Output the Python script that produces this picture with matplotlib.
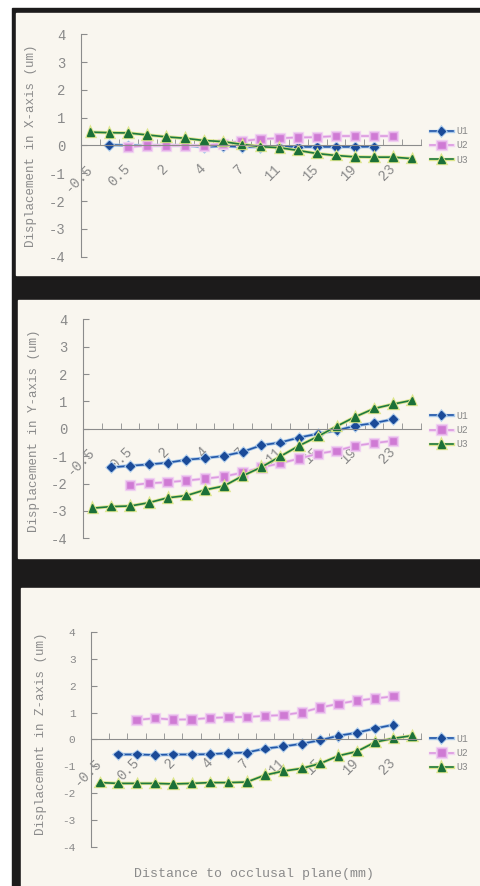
# displacement curves along three axes, Excel-style panels
import numpy as np
import matplotlib.pyplot as plt
import matplotlib.patheffects as pe
from matplotlib.patches import Rectangle

plt.rcParams['axes.unicode_minus'] = False
plt.rcParams['font.family'] = ['Liberation Mono', 'DejaVu Sans Mono']

# categories on the x axis (only every other one is labelled in the chart)
distance = ['-0.5', '0', '0.5', '1', '2', '3', '4', '5.5', '7', '9',
            '11', '13', '15', '17', '19', '21', '23', '25']
shown = ['-0.5', '0.5', '2', '4', '7', '11', '15', '19', '23']

# X-axis displacement (um)
x_u1 = [0.02, 0.0, 0.0, 0.0, 0.0, -0.05, -0.02, -0.05, -0.05, -0.05,
        -0.05, -0.05, -0.05, -0.05, -0.04]
x_u2 = [-0.06, 0.0, 0.0, 0.0, 0.0, 0.06, 0.16, 0.23, 0.26, 0.29,
        0.30, 0.34, 0.34, 0.34, 0.34]
x_u3 = [0.48, 0.46, 0.45, 0.38, 0.31, 0.26, 0.18, 0.14, 0.04, -0.04,
        -0.08, -0.18, -0.29, -0.36, -0.41, -0.42, -0.42, -0.47]

# Y-axis displacement (um)
y_u1 = [-1.41, -1.35, -1.30, -1.24, -1.13, -1.07, -0.99, -0.84, -0.60, -0.50,
        -0.32, -0.18, -0.06, 0.11, 0.21, 0.35]
y_u2 = [-2.06, -1.99, -1.95, -1.89, -1.82, -1.74, -1.60, -1.41, -1.26, -1.09,
        -0.91, -0.80, -0.62, -0.52, -0.44]
y_u3 = [-2.90, -2.84, -2.82, -2.70, -2.52, -2.44, -2.23, -2.09, -1.72, -1.40,
        -1.01, -0.62, -0.28, 0.09, 0.44, 0.74, 0.90, 1.04]

# Z-axis displacement (um)
z_u1 = [-0.56, -0.56, -0.58, -0.56, -0.56, -0.55, -0.51, -0.49, -0.34, -0.26,
        -0.16, -0.03, 0.14, 0.25, 0.41, 0.55]
z_u2 = [0.73, 0.79, 0.74, 0.75, 0.80, 0.83, 0.84, 0.88, 0.91, 1.01,
        1.19, 1.33, 1.45, 1.53, 1.61]
z_u3 = [-1.61, -1.64, -1.64, -1.64, -1.66, -1.64, -1.61, -1.61, -1.59, -1.33,
        -1.18, -1.08, -0.90, -0.61, -0.45, -0.10, 0.04, 0.14]

# first category index of each series
start_u1, start_u2, start_u3 = 1, 2, 0

W, H = 481, 886
fig = plt.figure(figsize=(W / 100, H / 100), dpi=100)
fig.patch.set_facecolor('white')

def box(x0, y0, x1, y1, color):
    fig.patches.append(Rectangle((x0 / W, 1 - y1 / H), (x1 - x0) / W, (y1 - y0) / H,
                                 transform=fig.transFigure, color=color, zorder=-10))

box(12, 8, W, H, '#1c1b1b')
box(16, 13, W, 275, '#f9f6ef')
box(18, 300, W, 558, '#f9f6ef')
box(21, 588, W, H, '#f9f6ef')

styles = [
    dict(label='U1', color='#2458a8', marker='D', ms=4, mfc='#1a4a98', mec='#1a4a98', halo='#a8c8ea'),
    dict(label='U2', color='#dd9be0', marker='s', ms=6, mfc='#cf7ad4', mec='#e4b0e8', halo='#f2d6f2'),
    dict(label='U3', color='#1f7a40', marker='^', ms=5.5, mfc='#1b7038', mec='#1b7038', halo='#dce58c'),
]

def panel(rect, series, ylabel, label_x, label_y, leg_y, ytick_size):
    ax = fig.add_axes(rect)
    ax.set_facecolor('none')
    for (vals, start), st in zip(series, styles):
        pos = np.arange(start, start + len(vals)) + 0.5
        ax.plot(pos, vals, color=st['color'], lw=1.2, marker=st['marker'], ms=st['ms'],
                mfc=st['mfc'], mec=st['mec'], label=st['label'],
                path_effects=[pe.Stroke(linewidth=2.4, foreground=st['halo']), pe.Normal()])
    ax.set_xlim(0, len(distance))
    ax.set_ylim(-4, 4)
    for s in ['top', 'right']:
        ax.spines[s].set_visible(False)
    ax.spines['left'].set_color('#8c8c8c')
    ax.spines['bottom'].set_color('#8c8c8c')
    ax.spines['bottom'].set_position(('data', 0))
    ax.set_yticks(range(-4, 5))
    ax.tick_params(axis='y', direction='in', length=4, color='#8c8c8c',
                   labelcolor='#8a8a8a', labelsize=ytick_size, pad=11)
    idx = [distance.index(v) for v in shown]
    ax.set_xticks(np.array(idx) + 0.5)
    ax.set_xticklabels(shown, rotation=45, ha='right', va='center', rotation_mode='anchor')
    ax.set_xticks(np.arange(0, len(distance) + 1), minor=True)
    ax.tick_params(axis='x', which='major', length=0, labelcolor='#8a8a8a',
                   labelsize=10, pad=15)
    ax.tick_params(axis='x', which='minor', direction='in', length=4, color='#8c8c8c')
    ax.set_ylabel(ylabel, color='#8a8a8a', fontsize=9)
    ax.yaxis.set_label_coords(label_x, label_y)
    ax.legend(loc='center left', bbox_to_anchor=(1.0, leg_y), frameon=False,
              fontsize=7, labelcolor='#8a8a8a', handlelength=2.4,
              handletextpad=0.3, labelspacing=0.45)
    return ax

panel([0.1684, 0.7103, 0.707, 0.251],
      [(x_u1, start_u1), (x_u2, start_u2), (x_u3, start_u3)],
      'Displacement in X-axis (um)', -0.129, 0.5, 0.5, 10)
panel([0.1726, 0.3924, 0.7027, 0.2472],
      [(y_u1, start_u1), (y_u2, start_u2), (y_u3, start_u3)],
      'Displacement in Y-axis (um)', -0.127, 0.49, 0.495, 10)
ax3 = panel([0.1886, 0.0444, 0.6867, 0.242],
            [(z_u1, start_u1), (z_u2, start_u2), (z_u3, start_u3)],
            'Displacement in Z-axis (um)', -0.132, 0.526, 0.437, 8)
ax3.set_xlabel('Distance to occlusal plane(mm)', color='#8a8a8a', fontsize=9.5)
ax3.xaxis.set_label_coords(0.494, -0.099)

fig.savefig('out.png', dpi=100)
